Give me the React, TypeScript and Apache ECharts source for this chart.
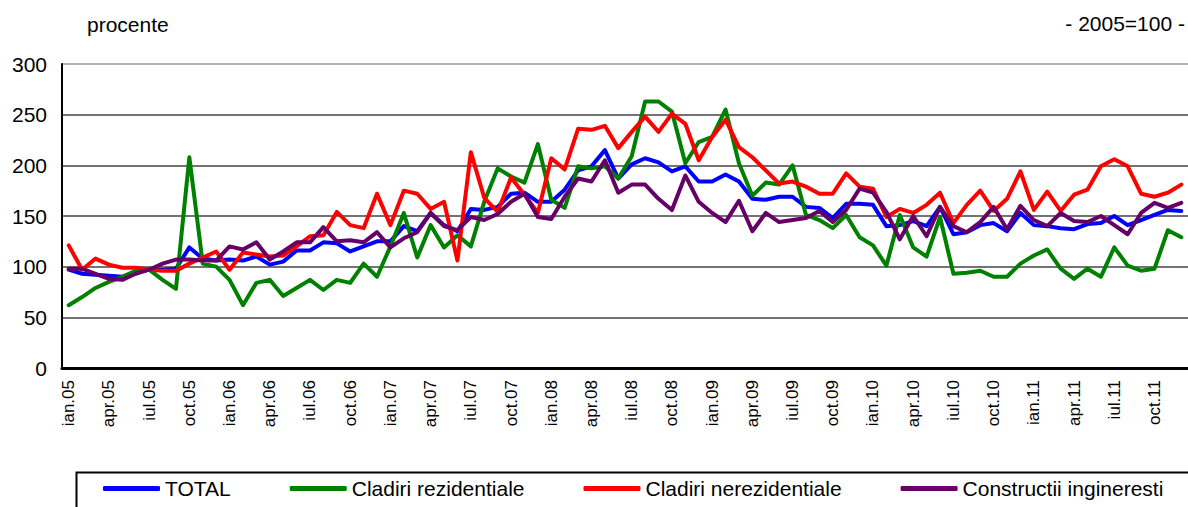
import React, { useEffect, useRef } from "react";
import * as echarts from "echarts";

const MONTHS = ["ian", "feb", "mar", "apr", "mai", "iun", "iul", "aug", "sep", "oct", "noi", "dec"];
const YEARS = ["05", "06", "07", "08", "09", "10", "11"];
const categories: string[] = [];
YEARS.forEach((y) => MONTHS.forEach((m) => categories.push(m + "." + y)));

const yTicks = [0, 50, 100, 150, 200, 250, 300];

const total = [
  97, 93, 92, 91, 90, 95, 97, 97, 98, 119, 108, 106,
  107, 106, 110, 102, 105, 116, 116, 124, 123, 115, 120, 125,
  125, 140, 135, 153, 141, 135, 157, 156, 159, 172, 173, 164,
  164, 176, 195, 199, 215, 187, 201, 207, 203, 194, 199, 184,
  184, 191, 184, 167, 166, 169, 169, 159, 158, 148, 162, 162,
  161, 140, 141, 145, 140, 159, 132, 134, 141, 143, 135, 153,
  141, 140, 138, 137, 142, 143, 150, 141, 146, 151, 156, 155,
];

const rezidentiale = [
  62, 70, 79, 85, 90, 96, 97, 87, 78, 208, 103, 100,
  87, 62, 84, 87, 71, 79, 87, 77, 87, 84, 103, 90,
  120, 153, 109, 141, 119, 131, 120, 164, 197, 189, 183, 221,
  166, 158, 199, 197, 199, 187, 209, 263, 263, 253, 202, 223,
  228, 255, 202, 170, 183, 181, 200, 151, 146, 138, 151, 129,
  121, 101, 151, 119, 110, 149, 93, 94, 96, 90, 90, 103,
  111, 117, 98, 88, 98, 90, 119, 101, 96, 98, 136, 129,
];

const nerezidentiale = [
  121, 97, 108, 102, 99, 99, 97, 96, 96, 103, 109, 115,
  97, 114, 112, 110, 111, 120, 130, 131, 154, 141, 138, 172,
  141, 175, 172, 157, 164, 106, 213, 168, 154, 188, 171, 153,
  207, 196, 236, 235, 239, 217, 233, 248, 233, 251, 241, 205,
  228, 245, 218, 208, 195, 182, 184, 179, 172, 172, 192, 179,
  177, 149, 157, 153, 161, 173, 143, 161, 175, 155, 167, 194,
  156, 174, 155, 171, 176, 199, 206, 199, 172, 169, 173, 181,
];

const inginer = [
  98, 98, 93, 88, 87, 93, 97, 103, 107, 107, 106, 106,
  120, 117, 124, 107, 115, 124, 124, 139, 125, 126, 124, 134,
  119, 128, 134, 153, 140, 136, 149, 146, 152, 164, 172, 149,
  147, 169, 187, 184, 205, 173, 181, 181, 167, 156, 190, 164,
  153, 144, 165, 135, 153, 144, 146, 148, 155, 144, 156, 177,
  173, 154, 127, 150, 130, 159, 140, 134, 144, 159, 137, 160,
  146, 140, 153, 145, 144, 150, 141, 132, 153, 163, 158, 163,
];

const seriesNames = ["TOTAL", "Cladiri rezidentiale", "Cladiri nerezidentiale", "Constructii ingineresti"];
const seriesColors = ["#0000FF", "#008000", "#FF0000", "#660066"];
const seriesData = [total, rezidentiale, nerezidentiale, inginer];

const FONT = "'Liberation Sans', Arial, sans-serif";

export default function App() {
  const ref = useRef<HTMLDivElement>(null);
  useEffect(() => {
    if (!ref.current) return;
    const chart = echarts.init(ref.current, undefined, { renderer: "svg" });
    chart.setOption({
      animation: false,
      backgroundColor: "#ffffff",
      textStyle: { fontFamily: FONT },
      grid: { left: 62, top: 64, width: 1136, height: 304, containLabel: false },
      xAxis: {
        type: "category",
        data: categories,
        boundaryGap: true,
        axisLine: { show: true, onZero: false, lineStyle: { color: "#000", width: 3 } },
        axisTick: { show: false },
        axisLabel: {
          interval: 2,
          rotate: 90,
          margin: 12,
          fontSize: 17,
          color: "#000",
          fontFamily: FONT,
        },
        splitLine: { show: false },
        z: 5,
      },
      yAxis: {
        type: "value",
        min: yTicks[0],
        max: yTicks[yTicks.length - 1],
        interval: 50,
        axisLine: { show: true, lineStyle: { color: "#000", width: 2 } },
        axisTick: { show: false },
        axisLabel: { fontSize: 21, color: "#000", margin: 15, fontFamily: FONT },
        splitLine: {
          show: true,
          lineStyle: { color: ["#000", "#444", "#444", "#444", "#444", "#444", "#999"], width: 1.5 },
        },
      },
      legend: {
        show: true,
        left: 103,
        top: 478,
        padding: 0,
        itemWidth: 57,
        itemHeight: 5,
        itemGap: 59,
        icon: "roundRect",
        textStyle: { fontSize: 21, color: "#000", fontFamily: FONT },
        data: seriesNames,
      },
      graphic: [
        {
          type: "rect",
          left: 74,
          top: 470,
          shape: { x: 0, y: 0, width: 1200, height: 60 },
          style: { fill: "none", stroke: "#000", lineWidth: 2 },
          silent: true,
        },
        {
          type: "text",
          x: 87,
          y: 24,
          style: { text: "procente", fontSize: 21, fill: "#000", fontFamily: FONT, verticalAlign: "middle" },
        },
        {
          type: "text",
          x: 1185,
          y: 23,
          style: {
            text: "- 2005=100 -",
            fontSize: 21,
            fill: "#000",
            fontFamily: FONT,
            align: "right",
            verticalAlign: "middle",
          },
        },
      ],
      series: seriesNames.map((name, i) => ({
        name,
        type: "line",
        data: seriesData[i],
        showSymbol: false,
        symbol: "none",
        color: seriesColors[i],
        lineStyle: { width: 4, color: seriesColors[i], join: "round", cap: "round" },
        emphasis: { disabled: true },
      })),
    });
    return () => chart.dispose();
  }, []);
  return (
    <div
      ref={ref}
      style={{ position: "fixed", left: 0, top: 0, width: 1188, height: 507, overflow: "hidden", background: "#fff" }}
    />
  );
}
